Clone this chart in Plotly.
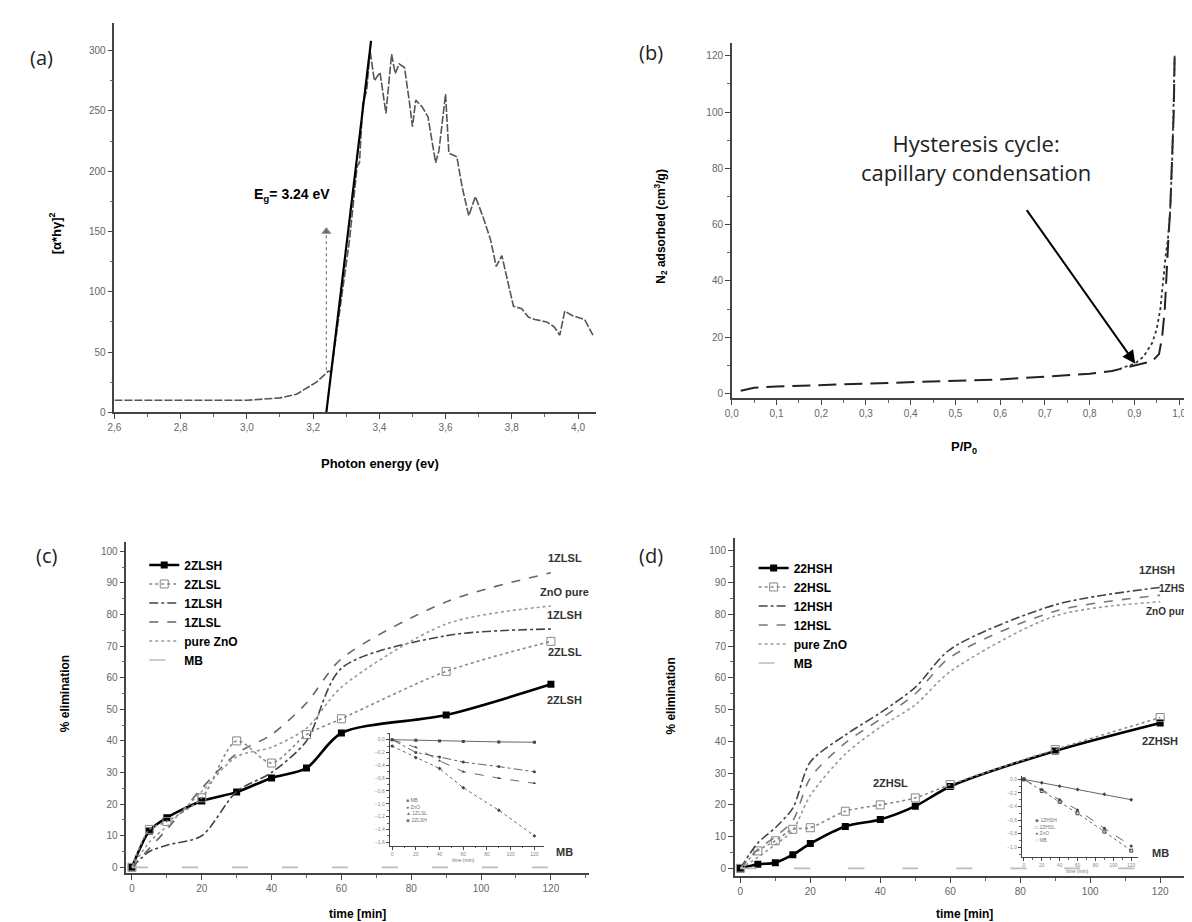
import plotly.graph_objects as go

W, H = 1192, 922

# ---- (a) Tauc plot ----
energy = [2.6, 2.8, 3.0, 3.05, 3.1, 3.15, 3.18, 3.21, 3.23, 3.245, 3.255, 3.276, 3.31,
          3.333, 3.34, 3.35, 3.362, 3.372, 3.385, 3.402, 3.42, 3.437, 3.448, 3.46, 3.476,
          3.49, 3.50, 3.51, 3.53, 3.547, 3.57, 3.58, 3.6, 3.61, 3.634, 3.65, 3.67, 3.69,
          3.712, 3.736, 3.753, 3.77, 3.787, 3.805, 3.83, 3.85, 3.87, 3.905, 3.928, 3.945,
          3.96, 3.985, 4.02, 4.045]
tauc = [10, 10, 10, 11, 12, 15, 20, 25, 30, 34, 34, 75, 143,
        204, 207, 256, 267, 300, 275, 282, 248, 297, 281, 289, 286,
        259, 237, 259, 253, 245, 207, 217, 264, 215, 212, 187, 163, 179,
        163, 143, 121, 130, 110, 88, 86, 79, 77, 75, 71, 64,
        84, 80, 77, 64]
tangent_energy = [3.24, 3.375]
tangent_value = [0, 308]
eg_marker_energy = [3.24, 3.24]
eg_marker_value = [35, 150]

# ---- (b) N2 isotherm ----
ads_p = [0.02, 0.05, 0.1, 0.2, 0.3, 0.4, 0.5, 0.6, 0.7, 0.8, 0.85, 0.9, 0.94, 0.955,
         0.962, 0.968, 0.972, 0.976, 0.98, 0.985, 0.988, 0.99]
ads_v = [1, 2, 2.5, 3, 3.5, 4, 4.5, 5, 6, 7, 8, 10, 11.5, 14,
         20, 30, 45, 55, 65, 85, 100, 120]
des_p = [0.99, 0.985, 0.98, 0.975, 0.97, 0.965, 0.958, 0.95, 0.94, 0.92, 0.9, 0.87]
des_v = [120, 85, 65, 55, 49, 42, 30, 23, 18, 13, 10.5, 9]

# ---- (c) low series ----
t_c = [0, 5, 10, 20, 30, 40, 50, 60, 90, 120]
c_2zlsh = [0, 11.5, 15.7, 21, 23.8, 28.3, 31.4, 42.5, 48.2, 57.9]
c_2zlsl = [0, 12, 14.5, 22, 40, 33, 42, 47, 62, 71.5]
c_1zlsh = [0, 5, 7, 10, 24, 30, 40, 63, 73.3, 75.4]
c_1zlsl = [0, 6, 12, 25, 36, 42, 52, 66, 84, 93.2]
c_zno = [0, 8, 13, 24, 35, 38, 44, 57, 77, 82.7]
c_mb = [0, 0, 0, 0, 0, 0, 0, 0, 0, 0]

t_c_in = [0, 20, 40, 60, 90, 120]
c_in_mb = [0, -0.01, -0.02, -0.03, -0.035, -0.04]
c_in_a = [0, -0.2, -0.27, -0.35, -0.42, -0.5]
c_in_b = [0, -0.12, -0.33, -0.5, -0.6, -0.68]
c_in_c = [-0.1, -0.28, -0.45, -0.75, -1.1, -1.5]

# ---- (d) high series ----
t_d = [0, 5, 10, 15, 20, 30, 40, 50, 60, 90, 120]
d_2zhsh = [0, 1.3, 1.8, 4.3, 7.8, 13.2, 15.4, 19.6, 25.8, 37, 45.8]
d_2zhsl = [0, 5.5, 8.7, 12.3, 12.8, 18, 20, 22.2, 26.4, 37.4, 47.5]
d_1zhsh = [0, 8, 12.8, 19, 33.5, 42, 49, 57, 69, 83, 88.5]
d_1zhsl = [0, 6, 10, 15, 28.5, 39.5, 47, 55, 66.5, 81, 86]
d_zno = [0, 3.5, 7.5, 12, 23, 36, 44.5, 51.5, 62, 79.5, 84]
d_mb = [0, 0, 0, 0, 0, 0, 0, 0, 0, 0, 0]

t_d_in = [0, 20, 40, 60, 90, 120]
d_in_a = [0, -0.05, -0.1, -0.15, -0.22, -0.3]
d_in_b = [0, -0.17, -0.33, -0.5, -0.77, -1.05]
d_in_c = [0, -0.15, -0.3, -0.45, -0.72, -0.98]


def fx(px):
    return px / W


def fy(py):
    return 1 - py / H


TICKFONT = dict(family="Liberation Sans", size=10, color="#666")
BOLD = dict(family="Liberation Sans", size=13, color="black", weight="bold")


def axis(x0, x1, rng, dtick, minor, anchor, tickfont=TICKFONT, ticklen=5, lw=1.5, fmt=None):
    ax = dict(domain=[x0, x1], range=rng, dtick=dtick, anchor=anchor,
              showline=True, linecolor="#444", linewidth=lw, ticks="outside",
              ticklen=ticklen, tickwidth=1.2, tickcolor="#444", showgrid=False,
              zeroline=False, tickfont=tickfont,
              minor=dict(ticks="outside", ticklen=ticklen * 0.6, dtick=minor,
                         tickcolor="#666", showgrid=False))
    if fmt:
        ax["tickformat"] = fmt
    return ax


fig = go.Figure()

# (a)
fig.add_trace(go.Scatter(x=energy, y=tauc, mode="lines", xaxis="x", yaxis="y",
                         line=dict(color="#555", width=1.6, dash="8px,2px"), showlegend=False))
fig.add_trace(go.Scatter(x=tangent_energy, y=tangent_value, mode="lines", xaxis="x", yaxis="y",
                         line=dict(color="black", width=2.2), showlegend=False))
fig.add_trace(go.Scatter(x=eg_marker_energy, y=eg_marker_value, mode="lines+markers", xaxis="x",
                         yaxis="y", line=dict(color="#777", width=1.2, dash="dot"),
                         marker=dict(symbol=["circle", "triangle-up"], size=[0, 8], color="#333"),
                         showlegend=False))

# (b)
fig.add_trace(go.Scatter(x=ads_p, y=ads_v, mode="lines", xaxis="x2", yaxis="y2",
                         line=dict(color="#222", width=2, dash="18px,8px"), showlegend=False))
fig.add_trace(go.Scatter(x=des_p, y=des_v, mode="lines", xaxis="x2", yaxis="y2",
                         line=dict(color="#333", width=1.8, dash="dot"), showlegend=False))

# (c)
c_series = [
    ("2ZLSH", c_2zlsh, dict(color="black", width=2.6), dict(symbol="square", size=7, color="black")),
    ("2ZLSL", c_2zlsl, dict(color="#888", width=1.6, dash="dot"),
     dict(symbol="square-open", size=8, color="#888")),
    ("1ZLSH", c_1zlsh, dict(color="#444", width=1.6, dash="dashdot"), None),
    ("1ZLSL", c_1zlsl, dict(color="#666", width=1.6, dash="dash"), None),
    ("pure ZnO", c_zno, dict(color="#999", width=1.6, dash="dot"), None),
    ("MB", c_mb, dict(color="#bbb", width=1.6, dash="16px,34px"), None),
]
for name, vals, line, marker in c_series:
    fig.add_trace(go.Scatter(x=t_c, y=vals, name="<b>%s</b>" % name, xaxis="x3", yaxis="y3",
                             mode="lines+markers" if marker else "lines",
                             line=dict(shape="spline", smoothing=0.8, **line),
                             marker=marker, legend="legend"))

# (d)
d_series = [
    ("22HSH", d_2zhsh, dict(color="black", width=2.6), dict(symbol="square", size=7, color="black")),
    ("22HSL", d_2zhsl, dict(color="#888", width=1.6, dash="dot"),
     dict(symbol="square-open", size=8, color="#888")),
    ("12HSH", d_1zhsh, dict(color="#444", width=1.6, dash="dashdot"), None),
    ("12HSL", d_1zhsl, dict(color="#777", width=1.6, dash="dash"), None),
    ("pure ZnO", d_zno, dict(color="#999", width=1.6, dash="dot"), None),
    ("MB", d_mb, dict(color="#bbb", width=1.6, dash="16px,38px"), None),
]
for name, vals, line, marker in d_series:
    fig.add_trace(go.Scatter(x=t_d, y=vals, name="<b>%s</b>" % name, xaxis="x4", yaxis="y4",
                             mode="lines+markers" if marker else "lines",
                             line=dict(shape="spline", smoothing=0.8, **line),
                             marker=marker, legend="legend2"))

# insets
for vals, dash, sym in [(c_in_mb, "solid", "square"), (c_in_a, "dashdot", "circle"),
                        (c_in_b, "dash", "triangle-up"), (c_in_c, "dot", "diamond")]:
    fig.add_trace(go.Scatter(x=t_c_in, y=vals, mode="lines+markers", xaxis="x5", yaxis="y5",
                             line=dict(color="#666", width=1, dash=dash),
                             marker=dict(symbol=sym, size=3, color="#444"), showlegend=False))
for vals, dash, sym in [(d_in_a, "solid", "diamond"), (d_in_b, "dot", "square-open"),
                        (d_in_c, "dash", "circle")]:
    fig.add_trace(go.Scatter(x=t_d_in, y=vals, mode="lines+markers", xaxis="x6", yaxis="y6",
                             line=dict(color="#666", width=1, dash=dash),
                             marker=dict(symbol=sym, size=3, color="#444"), showlegend=False))

tiny = dict(family="Liberation Sans", size=5, color="#888")

fig.update_layout(
    width=W, height=H, margin=dict(l=0, r=0, t=0, b=0),
    paper_bgcolor="white", plot_bgcolor="white", separators=", ",
    xaxis=axis(fx(100), fx(584), [2.6, 4.053], 0.2, 0.1, "y", fmt=".1f"),
    yaxis=axis(fy(407), fy(15), [0, 323], 50, 25, "x"),
    xaxis2=axis(fx(721), fx(1180), [0, 1.02], 0.1, 0.05, "y2", fmt=".1f"),
    yaxis2=axis(fy(393), fy(35), [-1.76, 124.6], 20, 10, "x2"),
    xaxis3=axis(fx(112), fx(577), [-1.6, 130.8], 20, 10, "y3"),
    yaxis3=axis(fy(871), fy(537), [-1.9, 103.1], 10, 5, "x3"),
    xaxis4=axis(fx(724), fx(1185), [-1.6, 129.4], 20, 10, "y4"),
    yaxis4=axis(fy(874), fy(533), [-2.5, 104.2], 10, 5, "x4"),
    xaxis5=axis(fx(377), fx(532), [-2, 128], 20, 10, "y5", tickfont=tiny, ticklen=3, lw=1),
    yaxis5=axis(fy(843), fy(730), [-1.65, 0.1], 0.2, 0.1, "x5", tickfont=tiny, ticklen=3, lw=1,
                fmt=".1f"),
    xaxis6=axis(fx(1013), fx(1130), [-2, 128], 20, 10, "y6", tickfont=tiny, ticklen=3, lw=1),
    yaxis6=axis(fy(855), fy(773), [-1.15, 0.05], 0.2, 0.1, "x6", tickfont=tiny, ticklen=3, lw=1,
                fmt=".1f"),
    legend=dict(x=fx(130), y=fy(546), xanchor="left", yanchor="top", bgcolor="rgba(0,0,0,0)",
                font=dict(family="Liberation Sans", size=12, color="black"), tracegroupgap=0),
    legend2=dict(x=fx(743), y=fy(549), xanchor="left", yanchor="top", bgcolor="rgba(0,0,0,0)",
                 font=dict(family="Liberation Sans", size=12, color="black"), tracegroupgap=0),
)

ann = []


def paper_text(px, py, text, font, angle=0):
    ann.append(dict(x=fx(px), y=fy(py), xref="paper", yref="paper", text=text, showarrow=False,
                    font=font, textangle=angle, xanchor="center", yanchor="middle"))


panel_font = dict(family="Open Sans", size=20, color="#222")
paper_text(27, 50, "(a)", panel_font)
paper_text(640, 45, "(b)", panel_font)
paper_text(32, 551, "(c)", panel_font)
paper_text(640, 551, "(d)", panel_font)

paper_text(367, 458, "Photon energy (ev)", BOLD)
paper_text(40, 227, "[α*hγ]<sup>2</sup>", BOLD, -90)
paper_text(955, 442, "P/P<sub>0</sub>", BOLD)
paper_text(649, 220, "N<sub>2</sub> adsorbed (cm<sup>3</sup>/g)", dict(BOLD, size=12), -90)
paper_text(345, 912, "time [min]", dict(BOLD, size=12))
paper_text(955, 912, "time [min]", dict(BOLD, size=12))
paper_text(50, 690, "% elimination", dict(BOLD, size=12), -90)
paper_text(660, 693, "% elimination", dict(BOLD, size=12), -90)

ann.append(dict(x=3.137, y=180, xref="x", yref="y", text="E<sub>g</sub>= 3.24 eV", showarrow=False,
                font=dict(BOLD, size=14)))
ann.append(dict(x=0.545, y=84, xref="x2", yref="y2",
                text="Hysteresis cycle:<br>capillary condensation", showarrow=False,
                font=dict(family="Open Sans", size=22, color="#222")))
ann.append(dict(x=0.902, y=10.6, ax=0.657, ay=65.7, xref="x2", yref="y2", axref="x2", ayref="y2",
                text="", showarrow=True, arrowhead=2, arrowsize=1.3, arrowwidth=2, arrowcolor="black"))

end_font = dict(family="Liberation Sans", size=11, color="#333", weight="bold")
for txt, y in [("1ZLSL", 98), ("ZnO pure", 87), ("1ZLSH", 80), ("2ZLSL", 68), ("2ZLSH", 53), ("MB", 5)]:
    ann.append(dict(x=124, y=y, xref="x3", yref="y3", text=txt, showarrow=False, font=end_font))
for txt, x, y in [("1ZHSH", 119, 94), ("2ZHSH", 120, 40), ("2ZHSL", 43, 27), ("MB", 120, 5)]:
    ann.append(dict(x=x, y=y, xref="x4", yref="y4", text=txt, showarrow=False, font=end_font))
for txt, y in [("1ZHSL", 88), ("ZnO pure", 81)]:
    ann.append(dict(x=129.4, y=y, xref="x4", yref="y4", text=txt, showarrow=False,
                    xanchor="right", font=dict(end_font, size=10)))

small = dict(family="Liberation Sans", size=5, color="#777")
ann.append(dict(x=10, y=-1.1, xref="x5", yref="y5", xanchor="left", showarrow=False, align="left",
                text="■ MB<br>● ZnO<br>▲ 1ZLSL<br>◆ 2ZLSH", font=small))
ann.append(dict(x=10, y=-0.75, xref="x6", yref="y6", xanchor="left", showarrow=False, align="left",
                text="◆ 1ZHSH<br>□ 2ZHSL<br>● ZnO<br>○ MB", font=small))
ann.append(dict(x=60, y=-1.65, xref="x5", yref="y5", text="time (min)", showarrow=False, font=small,
                yshift=-14))
ann.append(dict(x=60, y=-1.15, xref="x6", yref="y6", text="time (min)", showarrow=False, font=small,
                yshift=-14))

fig.update_layout(annotations=ann)

fig.write_html("out.html")
